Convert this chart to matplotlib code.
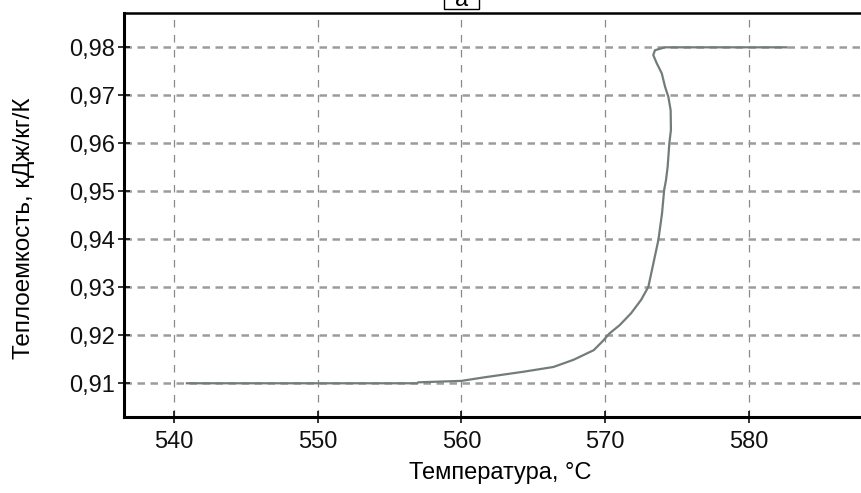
import matplotlib
matplotlib.use('Agg')
import matplotlib.pyplot as plt
from matplotlib.patches import Rectangle

plt.rcParams['font.family'] = ['Liberation Sans', 'DejaVu Sans']

# Heat capacity curve
temp = [540.9, 556.9, 557.0, 560.0, 561.5, 564.3, 566.4, 567.8, 569.2, 569.8,
        570.3, 571.0, 571.8, 572.5, 573.0, 573.2, 573.45, 573.7, 573.95, 574.1,
        574.23, 574.34, 574.46, 574.57, 574.55, 574.39, 574.16, 573.93, 573.58,
        573.34, 573.46, 574.16, 574.62, 582.6]
cp = [0.9100, 0.9100, 0.9102, 0.9105, 0.9112, 0.9124, 0.9134, 0.9149, 0.9169, 0.9187,
      0.9204, 0.9221, 0.9246, 0.9274, 0.9301, 0.9329, 0.9364, 0.9399, 0.9454, 0.9503,
      0.9524, 0.9551, 0.9600, 0.9628, 0.9669, 0.9697, 0.9718, 0.9746, 0.9767,
      0.9784, 0.9794, 0.9800, 0.9800, 0.9800]

xticks = [540, 550, 560, 570, 580]
yticks = [0.91, 0.92, 0.93, 0.94, 0.95, 0.96, 0.97, 0.98]
ytick_labels = ['0,91', '0,92', '0,93', '0,94', '0,95', '0,96', '0,97', '0,98']

fig = plt.figure(figsize=(8.62, 4.93), dpi=100)
ax = fig.add_axes([0.1444, 0.1548, 0.8556, 0.8188])

ax.plot(temp, cp, color='#737c7c', lw=1.6, zorder=3)

ax.set_xlim(536.56, 587.86)
ax.set_ylim(0.90304, 0.98715)
ax.set_xticks(xticks)
ax.set_yticks(yticks)
ax.set_yticklabels(ytick_labels)

# grid: horizontal thicker dashes, vertical thin dashes
ax.yaxis.grid(True, color='#9c9c9c', lw=1.8, linestyle=(0, (3, 2.2)))
ax.xaxis.grid(True, color='#8a8a8a', lw=0.9, linestyle=(0, (6, 6)))
ax.set_axisbelow(True)

for side in ['left', 'bottom']:
    ax.spines[side].set_linewidth(2.2)
ax.spines['top'].set_linewidth(1.8)
ax.spines['right'].set_visible(False)

ax.tick_params(axis='both', labelsize=17, direction='inout', length=8, width=1.2, colors='#111111')
ax.tick_params(axis='x', pad=6)
ax.tick_params(axis='y', pad=3)

ax.set_xlabel('Температура, °C', fontsize=17)
ax.set_ylabel('Теплоемкость, кДж/кг/К', fontsize=17.5)
ax.xaxis.set_label_coords(0.509, -0.112)
ax.yaxis.set_label_coords(-0.121, 0.468)

# panel letter in a box, cut by the top edge
W, H = 862, 493
fig.patches.append(Rectangle((444 / W, 1 - 9 / H), 35 / W, 30 / H, transform=fig.transFigure,
                             fc='white', ec='black', lw=1.0, zorder=5))
fig.text(461.5 / W, 1 - 6 / H, 'а', fontsize=17, ha='center', va='baseline', zorder=6)

plt.savefig('out.png', dpi=100)
